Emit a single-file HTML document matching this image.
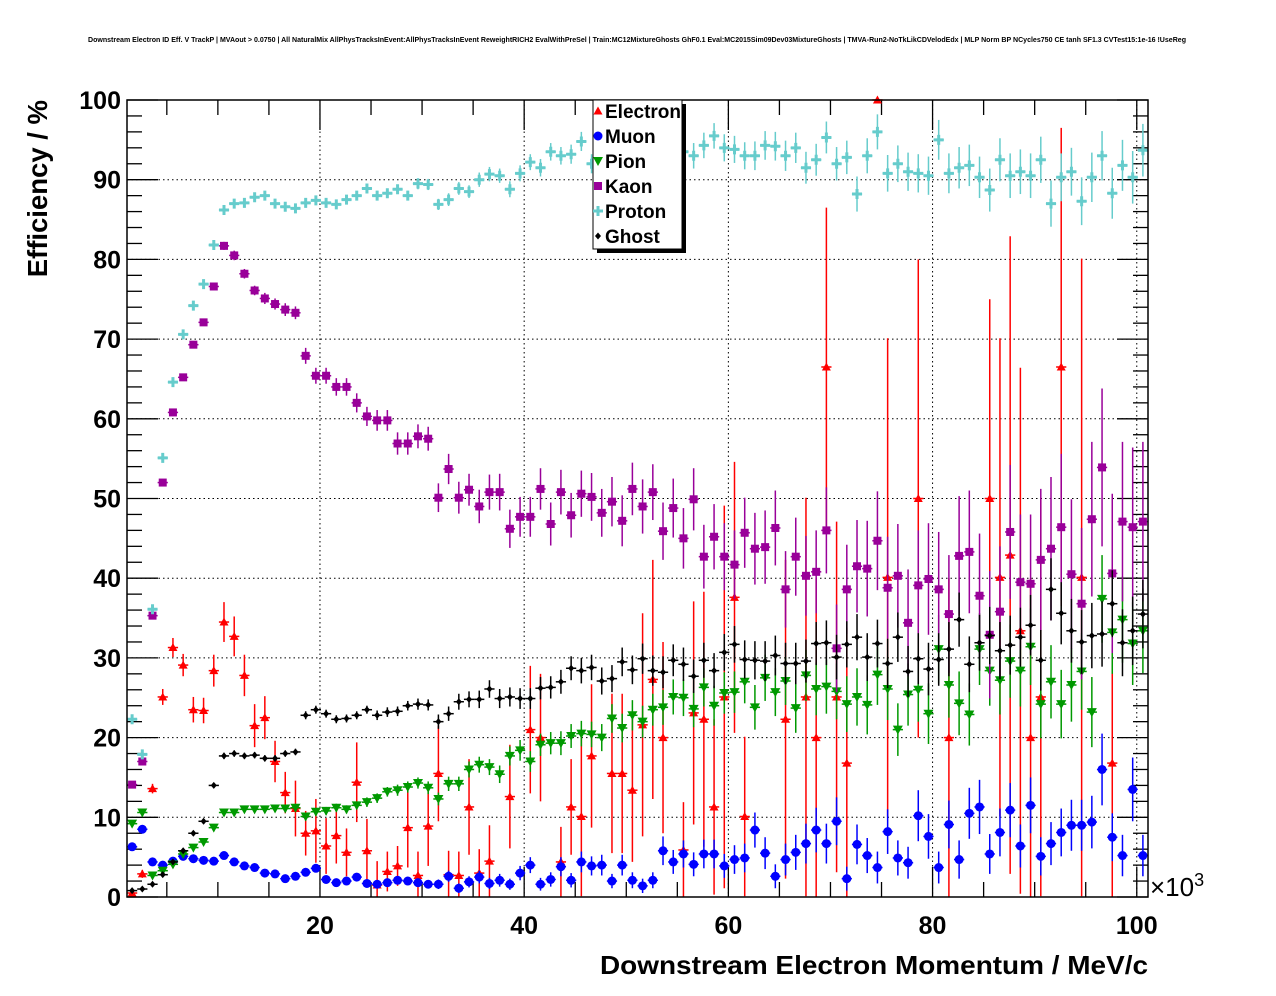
<!DOCTYPE html>
<html><head><meta charset="utf-8">
<style>
html,body{margin:0;padding:0;background:#fff;}
svg{display:block;font-family:"Liberation Sans",Arial,sans-serif;}
</style></head>
<body>
<svg id="chart" width="1276" height="996" viewBox="0 0 1276 996" xmlns="http://www.w3.org/2000/svg">
<rect x="0" y="0" width="1276" height="996" fill="#fff"/>
<text x="637" y="42" text-anchor="middle" font-size="6.9" font-weight="bold" textLength="1098" lengthAdjust="spacingAndGlyphs">Downstream Electron ID Eff. V TrackP | MVAout &gt; 0.0750 | All NaturalMix AllPhysTracksInEvent:AllPhysTracksInEvent ReweightRICH2 EvalWithPreSel | Train:MC12MixtureGhosts GhF0.1 Eval:MC2015Sim09Dev03MixtureGhosts | TMVA-Run2-NoTkLikCDVelodEdx | MLP Norm BP NCycles750 CE tanh SF1.3 CVTest15:1e-16 !UseReg</text>
<g id="grid"></g>
<g id="axes"></g>
<g id="series"></g>
<rect x="127" y="100" width="1021" height="797" fill="none" stroke="#000" stroke-width="1.5"/>
<text transform="translate(47,100) rotate(-90)" text-anchor="end" font-size="27.5" font-weight="bold">Efficiency / %</text>
<text x="1148" y="974" text-anchor="end" font-size="26" font-weight="bold" textLength="548" lengthAdjust="spacingAndGlyphs">Downstream Electron Momentum / MeV/c</text>
<text x="1150" y="896" font-size="26">×10<tspan font-size="18" dy="-10">3</tspan></text>
<g id="legend"></g>
</svg>
<script>
const xTicks = [20, 40, 60, 80, 100];
const yTicks = [0, 10, 20, 30, 40, 50, 60, 70, 80, 90, 100];
const seriesNames = ["Electron", "Muon", "Pion", "Kaon", "Proton", "Ghost"];
const electron = [0.5,2.9,13.6,25.1,31.3,29.1,23.5,23.4,28.4,34.5, 32.7,27.8,21.5,22.5,17.0,13.1,11.1,8.0,8.3,6.4, 7.7,5.6,14.4,5.8,1.5,3.2,3.9,8.7,2.7,8.9, 15.5,2.8,2.7,11.3,3.0,4.5,null,12.6,null,21.0, 20.0,null,4.4,11.3,10.1,17.7,null,15.5,15.5,13.4, 21.6,27.3,20.0,null,5.9,23.1,22.3,11.3,25.1,37.6, 10.1,null,null,null,22.3,null,25.1,20.0,66.5,25.1, 16.8,null,null,100,40.1,null,null,50.0,null,null, 20.0,null,null,null,50.0,40.1,42.9,33.4,20.0,25.1, null,66.5,null,40.1,null,null,16.8,null,null,null];
const electronErr = [0.4,0.5,0.6,1,1.2,1.4,1.6,1.6,2,2.5, 2.5,2.6,2.7,2.7,2.6,2.6,3.5,2.8,4,3.5, 3.5,3,5,4,3,2.5,2.5,5,3,5, 6,3,3,6,3,4.5,0,6.5,0,8, 8,0,4.4,6,10,9,0,10,10,9, 14,15,12,0,6,14,16,11,24,17, 10,0,0,0,20,0,25,20,20,22, 17,0,0,0,30,0,0,30,0,0, 20,0,0,0,25,30,40,33,20,25, 0,30,0,40,0,0,17,0,0,0];
const muon = [6.3,8.5,4.4,4.0,4.5,5.1,4.8,4.6,4.5,5.2, 4.4,3.9,3.7,3.0,2.9,2.3,2.6,3.1,3.6,2.2, 1.8,2.0,2.5,1.7,1.6,1.8,2.1,2.0,1.8,1.6, 1.6,2.6,1.1,1.9,2.5,1.7,2.1,1.6,3.0,4.0, 1.6,2.2,3.8,2.1,4.4,3.9,4.0,2.0,4.0,2.1, 1.4,2.1,5.8,4.4,5.4,4.1,5.4,5.4,3.9,4.7, 4.9,8.4,5.5,2.6,4.7,5.6,6.7,8.4,6.7,9.5, 2.3,6.6,5.2,3.7,8.2,4.9,4.3,10.2,7.6,3.7, 9.1,4.7,10.5,11.3,5.4,8.1,10.9,6.4,11.5,5.1, 6.7,8.1,9.0,9.0,9.4,16.0,7.5,5.2,13.5,5.2];
const muonErr = [0.3,0.3,0.3,0.3,0.3,0.3,0.3,0.3,0.3,0.3, 0.3,0.3,0.3,0.3,0.3,0.3,0.3,0.3,0.4,0.4, 0.4,0.4,0.4,0.4,0.4,0.4,0.5,0.5,0.5,0.5, 0.6,0.7,0.6,0.7,0.8,0.7,0.8,0.7,0.9,1.0, 0.8,0.9,1.2,0.9,1.3,1.2,1.3,0.9,1.3,1.0, 0.9,1.0,1.8,1.5,1.7,1.5,1.8,1.8,1.5,1.8, 1.8,2.2,2.0,1.5,2.0,2.2,2.5,2.8,2.5,3.0, 1.5,2.5,2.2,2.0,2.8,2.2,2.0,3.2,2.8,2.0, 3.0,2.4,3.2,3.4,2.5,3.0,3.4,2.7,3.5,2.4, 2.7,3.0,3.2,3.2,3.3,4.5,3.0,2.6,4.0,2.6];
const pion = [9.2,10.6,2.7,3.3,4.1,5.4,6.2,6.9,8.7,10.6, 10.6,11.0,11.0,11.0,11.1,11.1,11.2,10.1,10.7,10.8, 11.2,11.0,11.5,11.9,12.4,13.2,13.4,13.8,14.3,13.7, 12.3,14.2,14.2,16.0,16.6,16.3,15.4,17.7,18.4,17.0, 19.1,19.3,19.3,20.2,20.5,20.4,20.0,22.4,21.2,22.8, 22.0,23.5,23.8,25.1,25.0,23.6,26.3,24.0,25.6,25.7, 27.0,23.8,27.5,25.7,27.1,23.7,27.8,26.1,26.4,25.8, 24.2,25.1,24.1,27.9,26.1,21.0,25.4,26.0,23.0,31.1, 26.6,24.3,22.9,31.1,28.4,27.2,29.6,28.4,31.4,24.2, 27.0,24.2,26.6,28.3,23.2,37.4,33.2,34.8,31.8,33.4];
const pionErr = [0.4,0.4,0.3,0.3,0.3,0.3,0.3,0.3,0.4,0.4, 0.4,0.4,0.4,0.4,0.4,0.4,0.5,0.5,0.5,0.5, 0.5,0.5,0.5,0.6,0.6,0.6,0.7,0.7,0.7,0.8, 0.8,0.9,0.9,1.0,1.0,1.0,1.1,1.2,1.3,1.3, 1.4,1.4,1.5,1.5,1.6,1.6,1.7,1.8,1.8,1.9, 2.0,2.0,2.2,2.2,2.3,2.3,2.4,2.5,2.6,2.6, 2.7,2.8,2.9,3.0,3.0,3.1,3.2,3.3,3.4,3.5, 3.5,3.6,3.7,3.8,3.9,3.3,3.9,4.0,3.8,4.3, 4.1,4.0,3.9,4.5,4.4,4.3,4.6,4.5,4.8,4.3, 4.6,4.3,4.6,4.8,4.4,5.5,5.2,5.4,5.2,5.3];
const kaon = [14.1,17.0,35.3,52.0,60.8,65.2,69.3,72.1,76.6,81.7, 80.5,78.2,76.1,75.1,74.4,73.7,73.3,67.9,65.4,65.4, 64.0,64.0,62.0,60.3,59.8,59.8,56.9,56.9,57.8,57.5, 50.1,53.7,50.1,51.1,49.0,50.8,50.8,46.2,47.7,47.7, 51.2,46.8,50.8,47.9,50.6,50.2,48.2,49.6,47.2,51.2, 49.0,50.8,45.9,48.8,45.0,49.9,42.7,45.2,42.7,41.7, 45.7,43.7,43.9,46.3,38.6,42.7,40.3,40.8,46.0,31.2, 38.6,41.5,41.2,44.7,38.8,40.3,34.4,39.1,39.9,38.6, 35.5,42.8,43.3,37.8,32.9,35.8,45.8,39.5,39.3,42.3, 43.7,46.4,40.5,36.8,47.4,53.9,40.6,47.1,46.4,47.1];
const kaonErr = [0.3,0.3,0.4,0.4,0.4,0.4,0.4,0.4,0.5,0.5, 0.6,0.6,0.6,0.7,0.7,0.8,0.8,1.0,1.0,1.0, 1.1,1.1,1.2,1.2,1.3,1.3,1.4,1.4,1.5,1.5, 1.8,1.9,2.0,2.0,2.1,2.2,2.3,2.4,2.5,2.5, 2.6,2.7,2.8,2.8,2.9,3.0,3.0,3.1,3.2,3.3, 3.4,3.5,3.6,3.7,3.8,3.9,4.0,4.1,4.2,4.3, 4.4,4.5,4.6,4.7,4.8,4.9,5.0,5.2,5.4,5.5, 5.6,5.8,6.0,6.2,6.4,6.5,6.7,6.9,7.0,7.2, 7.4,7.5,7.7,7.8,8.0,8.2,8.4,8.5,8.7,8.9, 9.0,9.2,9.4,9.5,9.7,9.9,10,10,10,10];
const proton = [22.3,17.9,36.1,55.1,64.6,70.6,74.2,76.9,81.8,86.2, 87.0,87.1,87.8,88.0,87.0,86.6,86.4,87.1,87.4,87.1, 86.9,87.5,88.0,88.9,88.0,88.3,88.8,88.0,89.5,89.4, 86.9,87.5,88.9,88.5,90.0,90.7,90.5,88.8,90.8,92.2, 91.5,93.5,93.0,93.2,94.8,92.0,92.0,92.5,93.0,92.0, 93.0,92.5,92.0,92.0,93.5,93.0,94.3,95.5,94.0,93.8, 93.0,93.0,94.3,94.2,93.0,94.0,91.5,92.5,95.3,92.0, 92.8,88.2,93.0,96.0,90.8,92.0,91.0,90.8,90.5,95.0, 90.8,91.5,91.8,90.3,88.7,92.5,90.5,91.0,90.5,92.5, 87.0,90.3,91.0,87.3,90.3,93.0,88.3,91.8,90.3,93.7];
const protonErr = [0.4,0.4,0.4,0.4,0.4,0.4,0.4,0.4,0.4,0.4, 0.4,0.4,0.4,0.4,0.4,0.4,0.4,0.5,0.5,0.5, 0.5,0.5,0.5,0.5,0.6,0.6,0.6,0.6,0.7,0.7, 0.7,0.8,0.8,0.8,0.9,0.9,0.9,1.0,1.0,1.0, 1.1,1.1,1.1,1.2,1.2,1.2,1.3,1.3,1.3,1.4, 1.4,1.4,1.5,1.5,1.5,1.6,1.6,1.6,1.7,1.7, 1.7,1.8,1.8,1.8,1.9,1.9,2.0,2.0,2.0,2.1, 2.1,2.2,2.2,2.2,2.3,2.3,2.4,2.4,2.4,2.5, 2.5,2.6,2.6,2.6,2.7,2.7,2.8,2.8,2.8,2.9, 2.9,3.0,3.0,3.0,3.1,3.1,3.2,3.2,3.3,3.3];
const ghost = [0.8,1.0,1.6,2.8,4.4,5.8,8.0,9.5,14.0,17.7, 18.0,17.7,17.8,17.4,17.4,18.0,18.2,22.8,23.5,23.0, 22.3,22.4,22.8,23.5,22.8,23.2,23.3,24.0,24.2,24.1, 22.0,23.0,24.5,24.8,24.8,26.1,24.9,25.1,24.9,24.9, 26.2,26.3,27.0,28.7,28.4,28.8,27.1,27.4,29.5,28.5, 29.9,28.4,28.2,29.7,29.2,27.7,29.7,28.4,30.7,31.7, 29.8,29.7,29.6,30.3,29.3,29.3,29.6,31.8,31.9,30.1, 31.7,32.6,30.1,31.8,29.3,32.6,28.3,29.9,28.6,29.8, 31.1,34.8,29.2,31.9,32.8,30.9,31.6,32.6,34.1,29.7, 38.6,35.6,33.4,32.0,32.8,33.0,36.8,31.9,33.4,35.5];
const ghostErr = [0.2,0.2,0.2,0.3,0.3,0.3,0.3,0.3,0.3,0.4, 0.4,0.4,0.4,0.4,0.4,0.4,0.4,0.5,0.5,0.5, 0.5,0.5,0.5,0.5,0.6,0.6,0.6,0.6,0.7,0.7, 0.9,0.9,1.0,1.0,1.1,1.1,1.2,1.2,1.3,1.3, 1.4,1.4,1.5,1.5,1.6,1.6,1.7,1.7,1.8,1.8, 1.9,1.9,2.0,2.0,2.1,2.1,2.2,2.2,2.3,2.3, 2.4,2.4,2.5,2.5,2.6,2.6,2.7,2.7,2.8,2.8, 2.9,2.9,3.0,3.0,3.1,3.1,3.2,3.2,3.3,3.3, 3.4,3.4,3.5,3.5,3.6,3.6,3.7,3.7,3.8,3.8, 3.9,3.9,4.0,4.0,4.1,4.1,4.2,4.2,4.3,4.3];

const NS = "http://www.w3.org/2000/svg";
const PL = 127, PR = 1148, PT = 100, PB = 897;
const XMIN = 1.1, XMAX = 101.1, YMIN = 0, YMAX = 100;
const NBINS = 100;
function xs(v){ return PL + (v - XMIN) / (XMAX - XMIN) * (PR - PL); }
function ys(v){ return PB - (v - YMIN) / (YMAX - YMIN) * (PB - PT); }
function binCenter(i){ return XMIN + (i + 0.5) * (XMAX - XMIN) / NBINS; }
const BINW = (XMAX - XMIN) / NBINS;
function mk(tag, attrs, parent){
  const e = document.createElementNS(NS, tag);
  for (const k in attrs) e.setAttribute(k, attrs[k]);
  parent.appendChild(e);
  return e;
}
const gGrid = document.getElementById("grid");
const gAxes = document.getElementById("axes");
const gSer = document.getElementById("series");
const gLeg = document.getElementById("legend");

for (const t of yTicks) {
  if (t <= YMIN || t >= YMAX) continue;
  const l = mk("line", {x1: PL, x2: PR, y1: ys(t), y2: ys(t), stroke: "#000", "stroke-width": 1, "stroke-dasharray": "1.5,3"}, gGrid);
  
  
}
for (const t of xTicks) {
  if (t >= XMAX) continue;
  const l = mk("line", {x1: xs(t), x2: xs(t), y1: PT, y2: PB, stroke: "#000", "stroke-width": 1, "stroke-dasharray": "1.5,3"}, gGrid);
  
  
}
for (let v = YMIN; v <= YMAX; v += 2) {
  const major = (v % 10 === 0);
  const len = major ? 31 : 15;
  const y = ys(v);
  const a = mk("line", {x1: PL, x2: PL + len, y1: y, y2: y, stroke: "#000", "stroke-width": 1.3}, gAxes);
  
  
  const b = mk("line", {x1: PR, x2: PR - len, y1: y, y2: y, stroke: "#000", "stroke-width": 1.3}, gAxes);
  
  
}
for (const t of yTicks) {
  const tx = mk("text", {x: 121, y: ys(t) + 9, "text-anchor": "end", "font-size": 25, "font-weight": "bold"}, gAxes);
  tx.textContent = String(t);
  
  
}
for (let v = 5; v <= XMAX; v += 5) {
  const major = (v % 20 === 0);
  const len = major ? 30 : 15;
  const x = xs(v);
  const a = mk("line", {x1: x, x2: x, y1: PB, y2: PB - len, stroke: "#000", "stroke-width": 1.3}, gAxes);
  
  
  const b = mk("line", {x1: x, x2: x, y1: PT, y2: PT + len, stroke: "#000", "stroke-width": 1.3}, gAxes);
  
  
}
for (const t of xTicks) {
  const tx = mk("text", {x: xs(t), y: 934, "text-anchor": "middle", "font-size": 25, "font-weight": "bold"}, gAxes);
  tx.textContent = String(t);
  
  
}

function marker(kind, color, cx, cy, parent){
  let m;
  if (kind === "tri-up") m = mk("polygon", {points: `${cx-4.5},${cy+3.5} ${cx+4.5},${cy+3.5} ${cx},${cy-4.5}`, fill: color}, parent);
  else if (kind === "tri-down") m = mk("polygon", {points: `${cx-5},${cy-4} ${cx+5},${cy-4} ${cx},${cy+5}`, fill: color}, parent);
  else if (kind === "circle") m = mk("circle", {cx: cx, cy: cy, r: 4.5, fill: color}, parent);
  else if (kind === "square") m = mk("rect", {x: cx-4, y: cy-4, width: 8, height: 8, fill: color}, parent);
  else if (kind === "plus") m = mk("path", {d: `M${cx-5},${cy-1.5}h3.5v-3.5h3v3.5h3.5v3h-3.5v3.5h-3v-3.5h-3.5z`, fill: color}, parent);
  else m = mk("polygon", {points: `${cx-3},${cy} ${cx},${cy-3.5} ${cx+3},${cy} ${cx},${cy+3.5}`, fill: color}, parent);
  return m;
}

const seriesDefs = [
  {name: "electron", vals: electron, errs: electronErr, color: "#ff0000", kind: "tri-up"},
  {name: "muon", vals: muon, errs: muonErr, color: "#0000ff", kind: "circle"},
  {name: "pion", vals: pion, errs: pionErr, color: "#009900", kind: "tri-down"},
  {name: "kaon", vals: kaon, errs: kaonErr, color: "#990099", kind: "square"},
  {name: "proton", vals: proton, errs: protonErr, color: "#66cccc", kind: "plus"},
  {name: "ghost", vals: ghost, errs: ghostErr, color: "#000000", kind: "diamond"}
];
for (const s of seriesDefs) {
  const g = mk("g", {}, gSer);
  
  
  for (let i = 0; i < s.vals.length; i++) {
    const v = s.vals[i];
    if (v === null) continue;
    const cx = xs(binCenter(i)), cy = ys(v);
    const e = s.errs[i] || 0;
    const hi = Math.min(YMAX, v + e), lo = Math.max(YMIN, v - e);
    const xl = xs(binCenter(i) - BINW / 2), xr = xs(binCenter(i) + BINW / 2);
    const h = mk("line", {x1: xl, x2: xr, y1: cy, y2: cy, stroke: s.color, "stroke-width": 1.5}, g);
    
    
    if (e > 0) {
      const ve = mk("line", {x1: cx, x2: cx, y1: ys(hi), y2: ys(lo), stroke: s.color, "stroke-width": 1.5}, g);
      
      
    }
    const m = marker(s.kind, s.color, cx, cy, g);
    
    
  }
}

const sh = mk("rect", {x: 597, y: 104, width: 89, height: 149, fill: "#000"}, gLeg);


const box = mk("rect", {x: 593, y: 100, width: 89, height: 149, fill: "#fff", stroke: "#000", "stroke-width": 1}, gLeg);


for (let i = 0; i < seriesDefs.length; i++) {
  const s = seriesDefs[i];
  const y = 111 + i * 25;
  const ent = mk("g", {}, gLeg);
  
  
  const m = marker(s.kind, s.color, 598, y, ent);
  
  
  const t = mk("text", {x: 605, y: y + 7, "font-size": 19, "font-weight": "bold"}, ent);
  t.textContent = seriesNames[i];
  
  
}
</script>
</body></html>
